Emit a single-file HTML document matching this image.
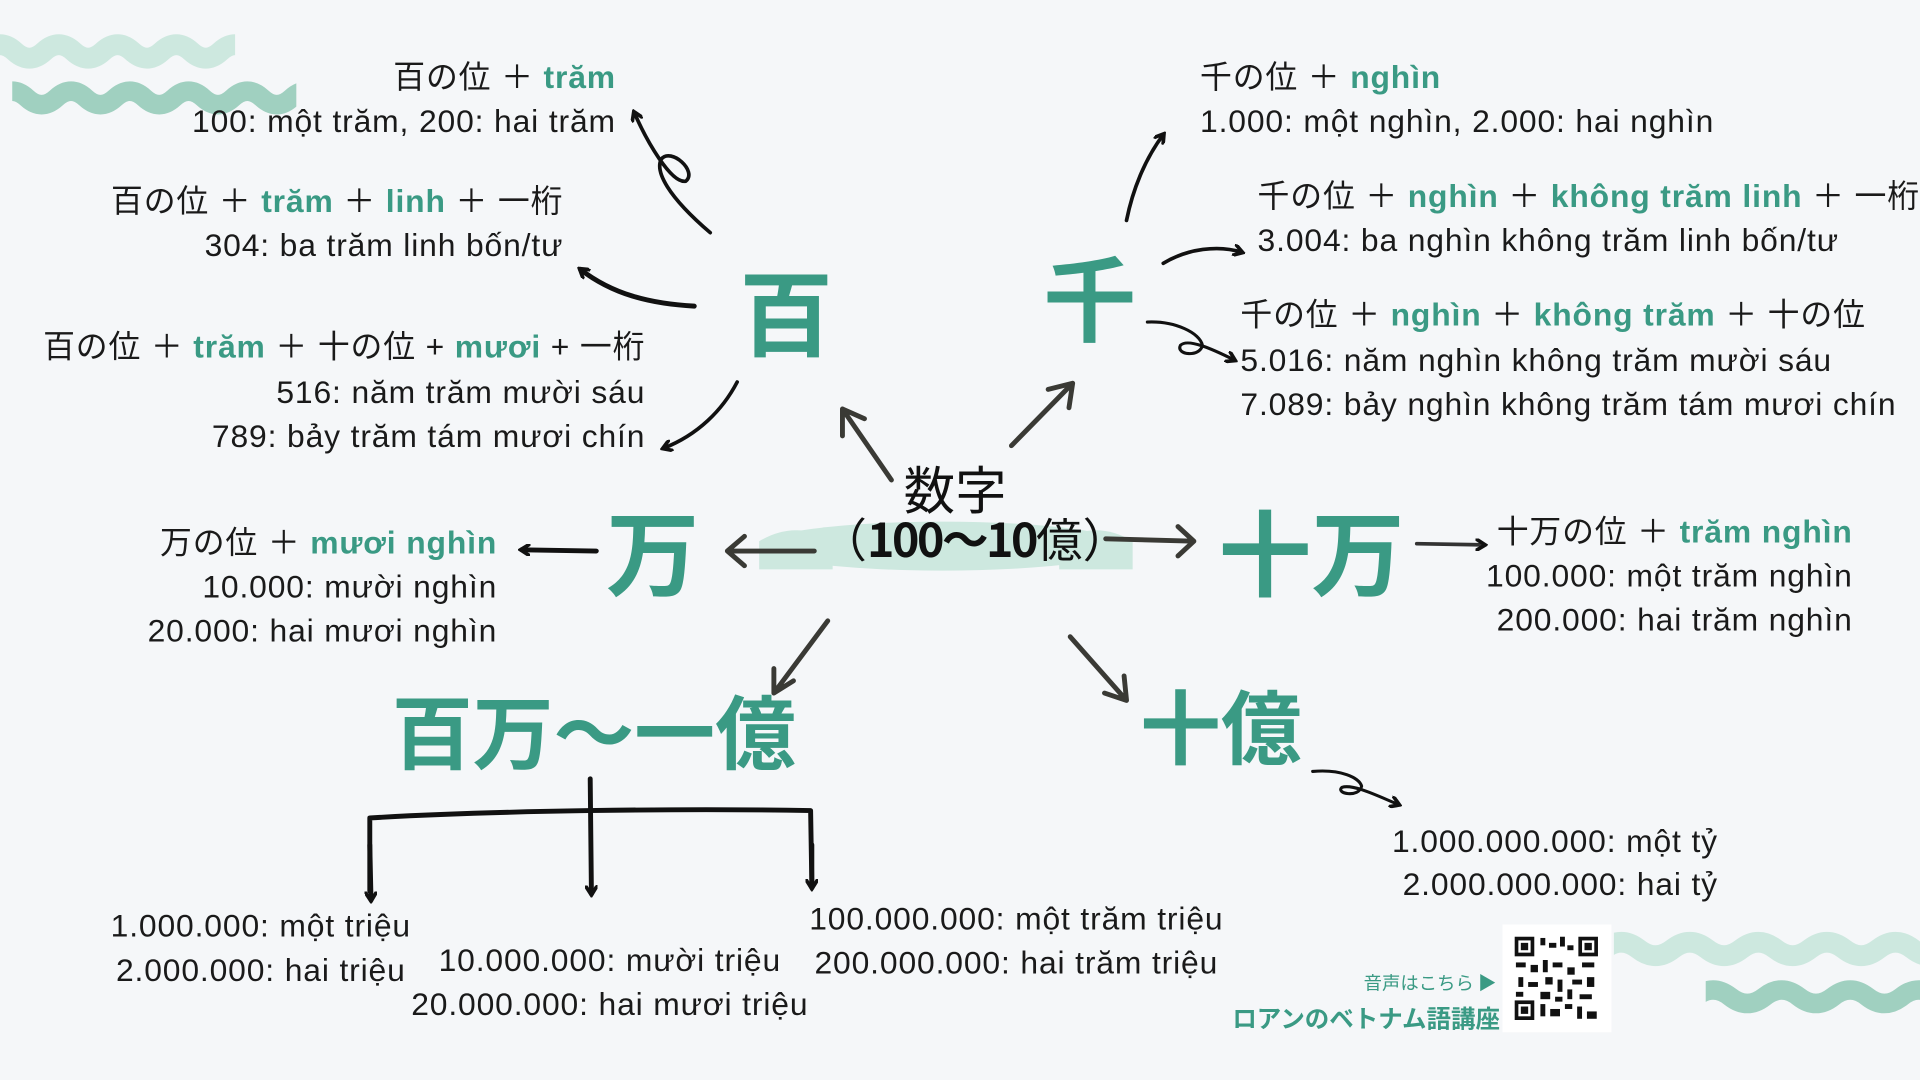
<!DOCTYPE html>
<html><head><meta charset="utf-8"><style>
html,body{margin:0;padding:0;background:#f5f7f9;}
#w{position:absolute;left:0;top:0;width:1568px;height:882px;transform:scale(1.22449);transform-origin:0 0;overflow:hidden;background:#f5f7f9;font-family:"Liberation Sans","Noto Sans CJK JP",sans-serif;color:#1a1a1a;}
.t{position:absolute;font-size:26px;line-height:36px;white-space:nowrap;letter-spacing:0.7px;}
.r{text-align:right;}
.g{color:#3a9a84;font-weight:bold;}
.big{position:absolute;color:#3a9a84;font-weight:bold;font-family:"Noto Sans CJK JP",sans-serif;white-space:nowrap;line-height:1;}
svg{position:absolute;left:0;top:0;}
</style></head><body><div id="w">
<svg width="1568" height="882" viewBox="0 0 1568 882">
<defs>
<marker id="a" markerWidth="10" markerHeight="10" refX="7" refY="5" orient="auto" markerUnits="userSpaceOnUse"><path d="M0,0 L8,5 L0,10" fill="none" stroke="#111" stroke-width="3" stroke-linecap="round"/></marker>
<clipPath id="c1"><rect x="0" y="20" width="192" height="45"/></clipPath>
<clipPath id="c2"><rect x="10" y="60" width="232" height="40"/></clipPath>
<clipPath id="c3"><rect x="1318" y="752" width="250" height="45"/></clipPath>
<clipPath id="c4"><rect x="1393" y="792" width="175" height="40"/></clipPath>
</defs>
<!-- waves -->
<path clip-path="url(#c1)" d="M-12,42 q12,-11 24,0 t24,0 t24,0 t24,0 t24,0 t24,0 t24,0 t24,0 t24,0 t24,0" fill="none" stroke="#cde8df" stroke-width="17"/>
<path clip-path="url(#c2)" d="M-2,80 q12,-11 24,0 t24,0 t24,0 t24,0 t24,0 t24,0 t24,0 t24,0 t24,0 t24,0 t24,0" fill="none" stroke="#a0d0c0" stroke-width="16"/>
<path clip-path="url(#c3)" d="M1310,775 q14,-11 28,0 t28,0 t28,0 t28,0 t28,0 t28,0 t28,0 t28,0 t28,0 t28,0" fill="none" stroke="#cde8df" stroke-width="17"/>
<path clip-path="url(#c4)" d="M1385,814 q14,-11 28,0 t28,0 t28,0 t28,0 t28,0 t28,0 t28,0" fill="none" stroke="#a0d0c0" stroke-width="16"/>
<!-- center blob -->
<ellipse cx="770" cy="446" rx="150" ry="20" fill="#cde8df"/>
<path d="M620,442 q30,-18 60,0 L680,465 L620,465 Z" fill="#cde8df"/>
<path d="M865,442 q30,-18 60,0 L925,465 L865,465 Z" fill="#cde8df"/>
<g fill="none" stroke="#111" stroke-width="3" stroke-linecap="round" stroke-linejoin="round">
<path d="M580,190 C545,160 535,140 540,130 C548,120 570,140 560,148 C548,150 528,115 518,92" marker-end="url(#a)"/>
<path d="M567,250 C530,248 500,240 474,220" stroke-width="4" marker-end="url(#a)"/>
<path d="M602,312 C590,335 570,355 542,366" marker-end="url(#a)"/>
<path d="M920,180 C925,155 935,130 950,110" marker-end="url(#a)"/>
<path d="M950,215 C970,203 995,200 1014,206" marker-end="url(#a)"/>
<path d="M937,263 C960,262 980,272 982,282 C980,292 960,290 964,282 C970,276 990,285 1008,294" stroke-width="2.5" marker-end="url(#a)"/>
<path d="M487,450 L426,449" stroke-width="4" marker-end="url(#a)"/>
<path d="M1157,444 L1212,445" stroke="#333" marker-end="url(#a)"/>
<path d="M1072,630 C1095,628 1110,635 1112,642 C1110,652 1090,648 1096,643 C1105,640 1125,650 1142,657" stroke-width="2.5" marker-end="url(#a)"/>
<path d="M482,636 L483,730" stroke-width="4" marker-end="url(#a)"/>
<path d="M302,728 L302,668 C400,662 560,660 662,662 L663,722" stroke-width="4"/>
<path d="M302,690 L303,735" stroke-width="4" marker-end="url(#a)"/>
<path d="M663,690 L663,725" stroke-width="4" marker-end="url(#a)"/>
</g>
<g fill="none" stroke="#3a3a35" stroke-width="4" stroke-linecap="round">
<path d="M728,392 L688,334 M688,334 L688,356 M688,334 L706,342"/>
<path d="M826,364 L876,313 M876,313 L856,318 M876,313 L873,333"/>
<path d="M665,450 L594,450 M594,450 L608,438 M594,450 L608,462"/>
<path d="M903,440 L975,442 M975,442 L962,430 M975,442 L962,454"/>
<path d="M676,507 L632,566 M632,566 L632,546 M632,566 L648,556"/>
<path d="M874,520 L920,572 M920,572 L902,566 M920,572 L918,552"/>
</g>
<rect x="1227" y="755" width="89" height="88" fill="#fff"/>
<g fill="#111">
<rect x="1237" y="765" width="16" height="16"/><rect x="1240" y="768" width="10" height="10" fill="#fff"/><rect x="1242" y="770" width="6" height="6"/>
<rect x="1289" y="765" width="16" height="16"/><rect x="1292" y="768" width="10" height="10" fill="#fff"/><rect x="1294" y="770" width="6" height="6"/>
<rect x="1237" y="817" width="16" height="16"/><rect x="1240" y="820" width="10" height="10" fill="#fff"/><rect x="1242" y="822" width="6" height="6"/>
<rect x="1258" y="766" width="4" height="6"/><rect x="1265" y="770" width="6" height="4"/><rect x="1274" y="765" width="4" height="8"/><rect x="1280" y="772" width="5" height="4"/>
<rect x="1238" y="786" width="8" height="4"/><rect x="1250" y="788" width="6" height="6"/><rect x="1260" y="784" width="4" height="10"/><rect x="1268" y="786" width="8" height="4"/><rect x="1280" y="790" width="6" height="6"/><rect x="1292" y="786" width="10" height="4"/>
<rect x="1240" y="798" width="4" height="8"/><rect x="1248" y="802" width="8" height="4"/><rect x="1262" y="798" width="6" height="6"/><rect x="1272" y="800" width="4" height="10"/><rect x="1284" y="800" width="8" height="4"/><rect x="1296" y="798" width="6" height="8"/>
<rect x="1238" y="810" width="6" height="4"/><rect x="1258" y="810" width="8" height="6"/><rect x="1270" y="814" width="6" height="4"/><rect x="1280" y="808" width="4" height="8"/><rect x="1290" y="812" width="10" height="4"/>
<rect x="1258" y="820" width="4" height="10"/><rect x="1266" y="824" width="8" height="6"/><rect x="1278" y="820" width="6" height="4"/><rect x="1288" y="822" width="4" height="10"/><rect x="1296" y="826" width="8" height="6"/>
</g>
</svg>

<div class="t r" style="right:1065px;top:45px;">百の位 ＋ <span class="g">trăm</span></div>
<div class="t r" style="right:1065px;top:81px;">100: một trăm, 200: hai trăm</div>
<div class="t r" style="right:1108px;top:146px;">百の位 ＋ <span class="g">trăm</span> ＋ <span class="g">linh</span> ＋ 一桁</div>
<div class="t r" style="right:1108px;top:182px;">304: ba trăm linh bốn/tư</div>
<div class="t r" style="right:1041px;top:265px;">百の位 ＋ <span class="g">trăm</span> ＋ 十の位 + <span class="g">mươi</span> + 一桁</div>
<div class="t r" style="right:1041px;top:302px;">516: năm trăm mười sáu</div>
<div class="t r" style="right:1041px;top:338px;">789: bảy trăm tám mươi chín</div>

<div class="t" style="left:980px;top:45px;">千の位 ＋ <span class="g">nghìn</span></div>
<div class="t" style="left:980px;top:81px;">1.000: một nghìn, 2.000: hai nghìn</div>
<div class="t" style="left:1027px;top:142px;">千の位 ＋ <span class="g">nghìn</span> ＋ <span class="g">không trăm linh</span> ＋ 一桁</div>
<div class="t" style="left:1027px;top:178px;">3.004: ba nghìn không trăm linh bốn/tư</div>
<div class="t" style="left:1013px;top:239px;">千の位 ＋ <span class="g">nghìn</span> ＋ <span class="g">không trăm</span> ＋ 十の位</div>
<div class="t" style="left:1013px;top:276px;">5.016: năm nghìn không trăm mười sáu</div>
<div class="t" style="left:1013px;top:312px;">7.089: bảy nghìn không trăm tám mươi chín</div>

<div class="t r" style="right:1162px;top:425px;">万の位 ＋ <span class="g">mươi nghìn</span></div>
<div class="t r" style="right:1162px;top:461px;">10.000: mười nghìn</div>
<div class="t r" style="right:1162px;top:497px;">20.000: hai mươi nghìn</div>

<div class="t r" style="right:55px;top:416px;">十万の位 ＋ <span class="g">trăm nghìn</span></div>
<div class="t r" style="right:55px;top:452px;">100.000: một trăm nghìn</div>
<div class="t r" style="right:55px;top:488px;">200.000: hai trăm nghìn</div>

<div class="t r" style="right:165px;top:669px;">1.000.000.000: một tỷ</div>
<div class="t r" style="right:165px;top:704px;">2.000.000.000: hai tỷ</div>

<div class="t" style="left:213px;top:738px;transform:translateX(-50%);">1.000.000: một triệu</div>
<div class="t" style="left:213px;top:774px;transform:translateX(-50%);">2.000.000: hai triệu</div>
<div class="t" style="left:498px;top:766px;transform:translateX(-50%);">10.000.000: mười triệu</div>
<div class="t" style="left:498px;top:802px;transform:translateX(-50%);">20.000.000: hai mươi triệu</div>
<div class="t" style="left:830px;top:732px;transform:translateX(-50%);">100.000.000: một trăm triệu</div>
<div class="t" style="left:830px;top:768px;transform:translateX(-50%);">200.000.000: hai trăm triệu</div>

<div class="big" style="left:604px;top:214px;font-size:76px;">百</div>
<div class="big" style="left:852px;top:202px;font-size:76px;">千</div>
<div class="big" style="left:495px;top:410px;font-size:76px;">万</div>
<div class="big" style="left:995px;top:410px;font-size:76px;">十万</div>
<div class="big" style="left:320px;top:562px;font-size:66px;">百万〜一億</div>
<div class="big" style="left:931px;top:558px;font-size:66px;">十億</div>

<div style="position:absolute;left:738px;top:378px;font-size:42px;line-height:1;font-family:'Noto Sans CJK JP',sans-serif;color:#111;">数字</div>
<div style="position:absolute;left:670px;top:420px;font-size:38px;line-height:1;font-family:'Noto Sans CJK JP',sans-serif;color:#111;white-space:nowrap;">（<b style="letter-spacing:-2px">100〜10</b>億）</div>

<div style="position:absolute;right:346px;top:792px;font-size:15px;color:#3a9a84;font-family:'Noto Sans CJK JP',sans-serif;white-space:nowrap;">音声はこちら ▶</div>
<div style="position:absolute;right:343px;top:816px;font-size:20px;font-weight:bold;color:#3a9a84;font-family:'Noto Sans CJK JP',sans-serif;white-space:nowrap;">ロアンのベトナム語講座</div>
</div></body></html>
